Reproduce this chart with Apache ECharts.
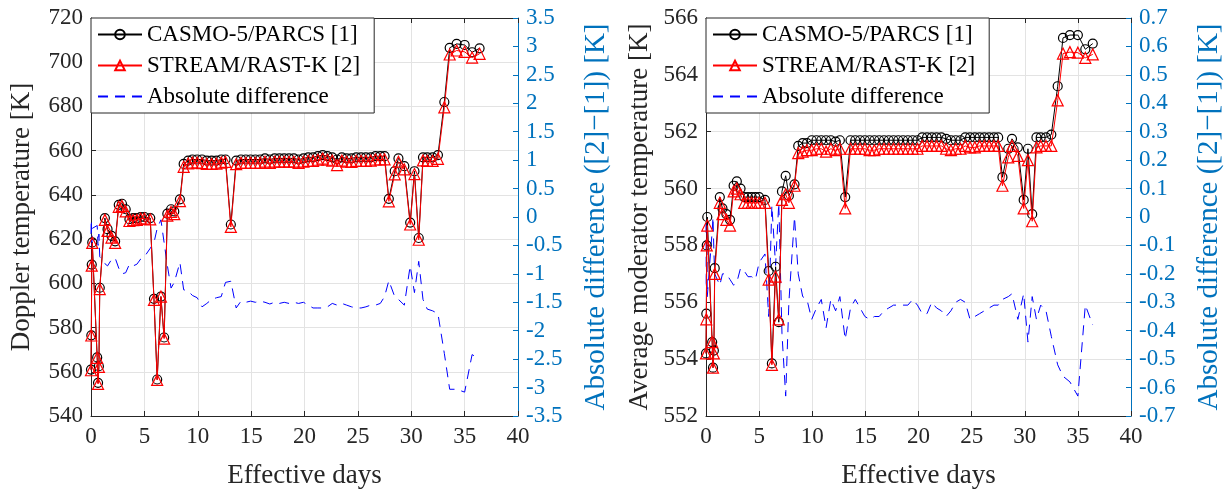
<!DOCTYPE html>
<html>
<head>
<meta charset="utf-8">
<script src="https://cdn.jsdelivr.net/npm/echarts@6/dist/echarts.min.js"></script>
<style>html,body{margin:0;padding:0;background:#fff;}#c{width:1232px;height:494px;}</style>
</head>
<body>
<div id="c"></div>
<script>
const days = [0.00,0.03,0.07,0.12,0.58,0.66,0.74,0.82,1.30,1.55,1.92,2.26,2.60,2.90,3.25,3.60,3.95,4.30,4.65,5.00,5.55,5.90,6.20,6.55,6.85,7.15,7.50,7.80,8.33,8.68,
9.1,9.5,9.95,10.4,10.85,11.3,11.75,12.2,12.6,13.1,13.6,14.05,14.5,14.95,15.4,15.85,16.3,16.75,17.2,17.65,18.1,18.55,19.0,19.45,19.9,20.35,20.8,21.25,21.7,22.15,22.6,23.05,23.5,23.95,24.4,24.85,25.3,25.75,26.2,26.65,27.1,27.5,
27.9,28.45,28.8,29.35,29.9,30.3,30.7,31.1,31.5,32.0,32.5,33.1,33.6,34.25,35.0,35.7,36.4];

const dopplerCasmo = [561,576.5,608.5,618.5,566.5,555,562.5,598,629.5,624.5,621.5,619,635.5,636,633.5,629,629.5,629.5,630,630,629.5,593,556.5,594,575.5,631.5,633.5,632.5,638,654,
655.5,656,656,656,655.5,655.5,655.5,656,656,626.6,655.5,656,656,656,656,656,656.5,656,656.5,656.5,656.5,656.5,656.5,656,656.5,657,657,657.5,658,657.5,657,656,657,656.5,656.5,657,657,657,657,657.5,657.5,657.5,
638.2,650.7,656.5,653,627.5,650.7,620.5,657,657,657,658,682,706.5,708.3,707.8,704.5,706.3];

const dopplerStream = [560.7,576.4,608,618.3,566.3,554.5,562.2,597.4,628.7,623.7,620.7,618.3,634.6,635,632.5,628.2,628.6,628.7,629.3,629.3,628.9,592.5,556.3,594,575,630.6,632.3,631.3,637.2,652.7,
654.2,654.6,654.6,654.4,654,654,654.1,654.6,654.9,625.5,653.9,654.5,654.5,654.5,654.5,654.5,655,654.5,655,655,655,655,655,654.5,655,655.4,655.4,655.9,656.4,655.9,655.5,653.5,655.5,655,654.9,655.4,655.4,655.4,655.5,656,656,656.1,
637.1,649.3,655,651.5,626.6,649.4,619.7,655.6,655.4,655.4,656.3,679.6,703.5,705.3,704.7,702.1,703.8];

const dopplerDiff = [-0.3,-0.05,-0.6,-0.2,-0.15,-0.5,-0.3,-0.7,-0.82,-0.86,-0.75,-0.72,-0.9,-1.0,-0.98,-0.83,-0.86,-0.83,-0.74,-0.7,-0.55,-0.45,-0.2,-0.05,-0.45,-0.85,-1.25,-1.15,-0.8,-1.28,
-1.3,-1.38,-1.42,-1.58,-1.52,-1.45,-1.42,-1.4,-1.15,-1.13,-1.6,-1.48,-1.5,-1.48,-1.5,-1.48,-1.5,-1.53,-1.5,-1.52,-1.5,-1.52,-1.5,-1.52,-1.5,-1.55,-1.6,-1.6,-1.6,-1.58,-1.52,-1.55,-1.52,-1.55,-1.58,-1.6,-1.6,-1.58,-1.55,-1.55,-1.52,-1.4,
-1.12,-1.4,-1.45,-1.55,-0.86,-1.33,-0.78,-1.45,-1.62,-1.65,-1.7,-2.4,-3.03,-3.03,-3.08,-2.42,-2.5];

const modCasmo = [554.2,555.6,558.0,559.0,554.6,553.7,554.3,557.2,559.7,559.3,559.1,558.9,560.1,560.25,560.0,559.7,559.7,559.7,559.7,559.7,559.6,557.1,553.85,557.25,555.3,559.9,560.45,559.75,560.15,561.5,
561.6,561.6,561.7,561.7,561.7,561.7,561.7,561.65,561.7,559.7,561.7,561.7,561.7,561.7,561.7,561.7,561.7,561.7,561.7,561.7,561.7,561.7,561.7,561.7,561.7,561.8,561.8,561.8,561.8,561.8,561.75,561.7,561.7,561.7,561.8,561.8,561.8,561.8,561.8,561.8,561.8,561.8,
560.4,561.4,561.75,561.45,559.6,561.4,559.1,561.8,561.8,561.8,561.9,563.6,565.3,565.4,565.4,564.9,565.1];

const modStream = [554.2,555.4,558.0,558.7,554.6,553.7,554.2,557.0,559.5,559.1,558.9,558.7,559.9,560.0,559.8,559.5,559.5,559.5,559.5,559.5,559.5,556.8,553.8,556.9,555.4,559.6,559.8,559.5,560.1,561.25,
561.3,561.35,561.35,561.4,561.4,561.3,561.4,561.35,561.4,559.3,561.4,561.4,561.4,561.4,561.35,561.35,561.4,561.4,561.4,561.4,561.4,561.4,561.4,561.4,561.4,561.5,561.5,561.5,561.5,561.5,561.4,561.35,561.4,561.4,561.5,561.45,561.45,561.5,561.5,561.5,561.5,561.5,
560.1,561.1,561.5,561.15,559.3,561.0,558.85,561.45,561.5,561.5,561.5,563.1,564.75,564.8,564.78,564.6,564.72];

const modDiff = [-0.02,-0.25,-0.02,-0.28,-0.05,0.0,-0.12,-0.2,-0.24,-0.2,-0.2,-0.22,-0.24,-0.23,-0.18,-0.19,-0.21,-0.21,-0.22,-0.16,-0.13,-0.35,0.04,-0.17,0.05,-0.41,-0.63,-0.3,0.0,-0.2,
-0.28,-0.29,-0.36,-0.32,-0.29,-0.39,-0.29,-0.33,-0.28,-0.43,-0.32,-0.29,-0.32,-0.35,-0.36,-0.35,-0.35,-0.33,-0.32,-0.31,-0.31,-0.31,-0.31,-0.29,-0.31,-0.34,-0.34,-0.3,-0.32,-0.33,-0.35,-0.33,-0.3,-0.29,-0.3,-0.36,-0.35,-0.34,-0.33,-0.32,-0.31,-0.31,
-0.29,-0.28,-0.27,-0.36,-0.27,-0.44,-0.28,-0.36,-0.31,-0.33,-0.42,-0.52,-0.56,-0.58,-0.63,-0.31,-0.38];

const xTicks = {min: 0, max: 40, interval: 5};
const leftNames = ['Doppler temperature [K]', 'Average moderator temperature [K]'];
const diffName = 'Absolute difference ([2]\u2212[1]) [K]';
const seriesNames = ['CASMO-5/PARCS [1]', 'STREAM/RAST-K [2]', 'Absolute difference'];

const FONT = 'Liberation Serif';
const BLUE_AX = '#0072BD';
const DARK = '#262626';

function pairs(arr){ return days.map((d,i)=>[d, arr[i]]); }

const grids = [
  {left: 91, top: 18, width: 427, height: 399},
  {left: 706, top: 18, width: 425, height: 399}
];

function xAxisBottom(gi){
  return {
    type: 'value', gridIndex: gi, position: 'bottom', min: xTicks.min, max: xTicks.max, interval: xTicks.interval,
    name: 'Effective days', nameLocation: 'middle', nameGap: 46,
    nameTextStyle: {fontFamily: FONT, fontSize: 27, color: DARK},
    axisLine: {show: true, onZero: false, lineStyle: {color: DARK, width: 1}},
    axisTick: {show: true, inside: true, length: 5, lineStyle: {color: DARK}},
    axisLabel: {fontFamily: FONT, fontSize: 23, color: DARK, margin: 9},
    splitLine: {show: true, lineStyle: {color: '#e3e3e3', width: 1}}
  };
}
function xAxisTop(gi){
  return {
    type: 'value', gridIndex: gi, position: 'top', min: xTicks.min, max: xTicks.max, interval: xTicks.interval,
    axisLine: {show: true, onZero: false, lineStyle: {color: DARK, width: 1}},
    axisTick: {show: true, inside: true, length: 5, lineStyle: {color: DARK}},
    axisLabel: {show: false}, splitLine: {show: false}
  };
}
function yLeft(gi, min, max, interval, name, gap){
  return {
    type: 'value', gridIndex: gi, position: 'left', min, max, interval,
    name, nameLocation: 'middle', nameGap: gap, nameRotate: 90,
    nameTextStyle: {fontFamily: FONT, fontSize: 27, color: DARK},
    axisLine: {show: true, onZero: false, lineStyle: {color: DARK, width: 1}},
    axisTick: {show: true, inside: true, length: 5, lineStyle: {color: DARK}},
    axisLabel: {fontFamily: FONT, fontSize: 23, color: DARK, margin: 8},
    splitLine: {show: true, lineStyle: {color: '#e3e3e3', width: 1}}
  };
}
function yRight(gi, min, max, interval, gap){
  return {
    type: 'value', gridIndex: gi, position: 'right', min, max, interval,
    name: diffName, nameLocation: 'middle', nameGap: gap, nameRotate: 90,
    nameTextStyle: {fontFamily: FONT, fontSize: 29, color: BLUE_AX},
    axisLine: {show: true, onZero: false, lineStyle: {color: BLUE_AX, width: 1}},
    axisTick: {show: true, inside: true, length: 5, lineStyle: {color: BLUE_AX}},
    axisLabel: {fontFamily: FONT, fontSize: 23, color: BLUE_AX, margin: 8},
    splitLine: {show: false}
  };
}

function panelSeries(xi, yl, yr, casmo, stream, diff){
  return [
    {name: seriesNames[0], type: 'line', xAxisIndex: xi, yAxisIndex: yl, data: pairs(casmo),
     symbol: 'circle', symbolSize: 9, showAllSymbol: true, z: 3,
     itemStyle: {color: 'transparent', borderColor: '#000', borderWidth: 1.2},
     lineStyle: {color: '#000', width: 1}, emphasis: {disabled: true}},
    {name: seriesNames[1], type: 'line', xAxisIndex: xi, yAxisIndex: yl, data: pairs(stream),
     symbol: 'triangle', symbolSize: 11, showAllSymbol: true, z: 4,
     itemStyle: {color: 'transparent', borderColor: '#ff0000', borderWidth: 1.2},
     lineStyle: {color: '#ff0000', width: 1}, emphasis: {disabled: true}},
    {name: seriesNames[2], type: 'line', xAxisIndex: xi, yAxisIndex: yr, data: pairs(diff),
     symbol: 'none', showSymbol: false, z: 2,
     itemStyle: {color: '#0000ff'},
     lineStyle: {color: '#0000ff', width: 1, type: [10, 7]}, emphasis: {disabled: true}}
  ];
}

function legend(left){
  return {
    orient: 'vertical', left, top: 18,
    data: [
      {name: seriesNames[0]},
      {name: seriesNames[1]},
      {name: seriesNames[2], itemStyle: {opacity: 0}}
    ],
    backgroundColor: '#fff', borderColor: '#262626', borderWidth: 1,
    padding: [5, 14, 5, 6], itemGap: 8, itemWidth: 44, itemHeight: 12,
    textStyle: {fontFamily: FONT, fontSize: 23, color: '#000', lineHeight: 22},
    selectedMode: false
  };
}

const chart = echarts.init(document.getElementById('c'), null, {renderer: 'canvas'});
chart.setOption({
  animation: false,
  backgroundColor: '#fff',
  grid: grids,
  legend: [legend(91), legend(706)],
  xAxis: [xAxisBottom(0), xAxisTop(0), xAxisBottom(1), xAxisTop(1)],
  yAxis: [
    yLeft(0, 540, 720, 20, leftNames[0], 56),
    yRight(0, -3.5, 3.5, 0.5, 64),
    yLeft(1, 552, 566, 2, leftNames[1], 53),
    yRight(1, -0.7, 0.7, 0.1, 64)
  ],
  series: [
    ...panelSeries(0, 0, 1, dopplerCasmo, dopplerStream, dopplerDiff),
    ...panelSeries(2, 2, 3, modCasmo, modStream, modDiff)
  ]
});
</script>
</body>
</html>
